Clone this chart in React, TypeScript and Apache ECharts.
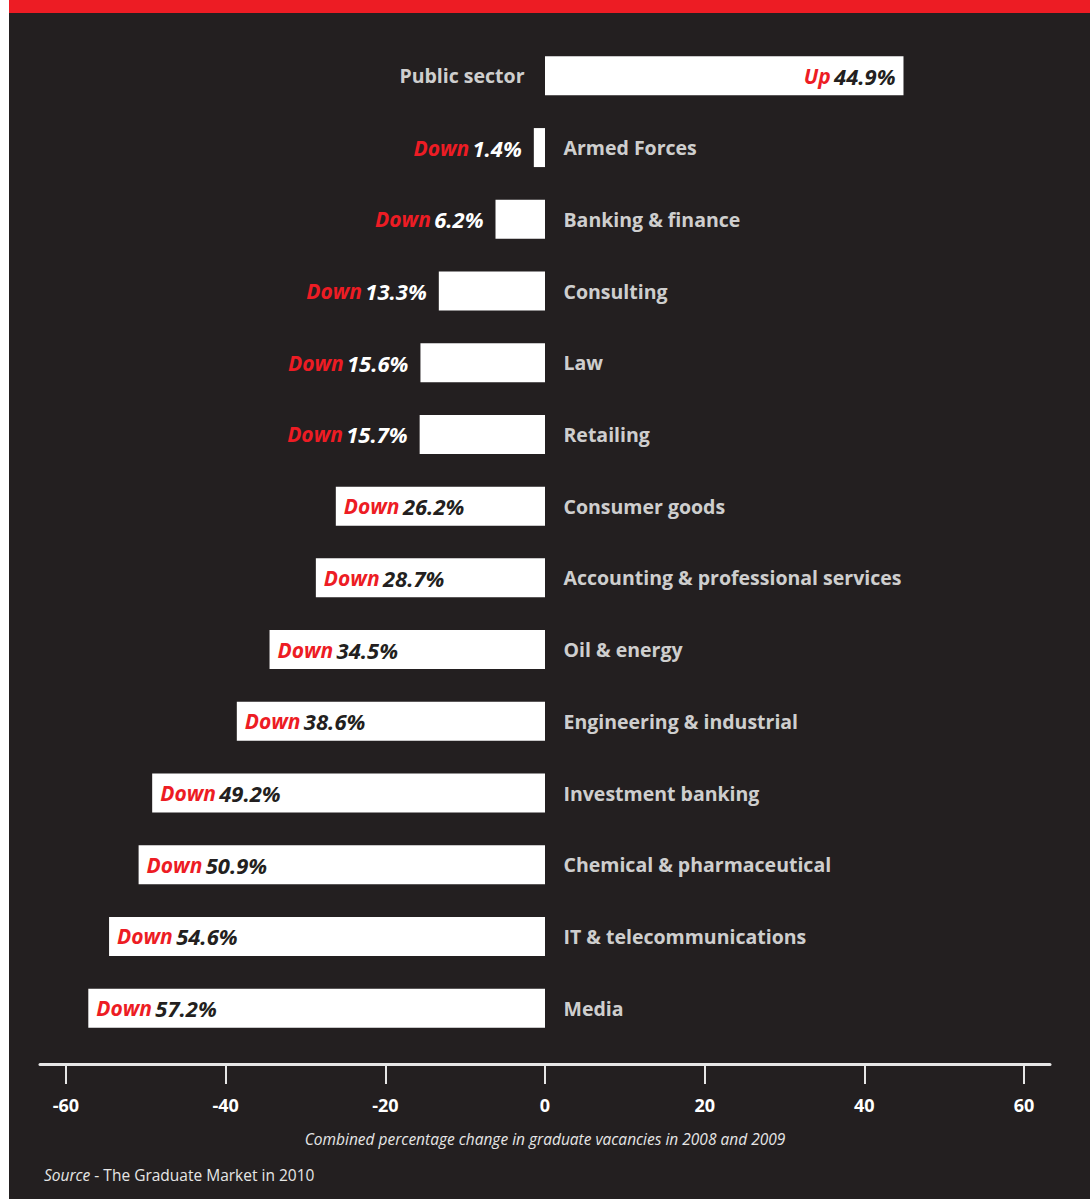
import React, { useEffect, useRef } from "react";
import * as echarts from "echarts";

const categories = [
  "Public sector",
  "Armed Forces",
  "Banking & finance",
  "Consulting",
  "Law",
  "Retailing",
  "Consumer goods",
  "Accounting & professional services",
  "Oil & energy",
  "Engineering & industrial",
  "Investment banking",
  "Chemical & pharmaceutical",
  "IT & telecommunications",
  "Media",
];

const changes = [44.9, -1.4, -6.2, -13.3, -15.6, -15.7, -26.2, -28.7, -34.5, -38.6, -49.2, -50.9, -54.6, -57.2];

const tickValues = [-60, -40, -20, 0, 20, 40, 60];

const axisTitle = "Combined percentage change in graduate vacancies in 2008 and 2009";
const sourceLabel = "Source";
const sourceText = " - The Graduate Market in 2010";

const RED = "#ed1c24";
const DARK = "#231f20";
const FONT = "'Open Sans', 'Noto Sans', sans-serif";

export default function App() {
  const ref = useRef<HTMLDivElement>(null);

  useEffect(() => {
    document.body.style.margin = "0";
    const chart = echarts.init(ref.current!, null, { renderer: "svg" });

    const barData = changes.map((v) => {
      const small = Math.abs(v) < 20;
      const word = v >= 0 ? "Up" : "Down";
      const num = Math.abs(v).toFixed(1) + "%";
      return {
        value: v,
        label: {
          show: true,
          position: v >= 0 ? "insideRight" : small ? "left" : "insideLeft",
          distance: small ? 12 : 8,
          formatter: `{w|${word}} {${small ? "vw" : "v"}|${num}}`,
          rich: {
            w: { color: RED, fontStyle: "italic", fontWeight: "bold", fontSize: 21, fontFamily: FONT },
            v: { color: DARK, fontStyle: "italic", fontWeight: "bold", fontSize: 22, fontFamily: FONT },
            vw: { color: "#ffffff", fontStyle: "italic", fontWeight: "bold", fontSize: 22, fontFamily: FONT },
          },
        },
      };
    });

    const nameData = categories.map((c, i) => ({
      value: [0, i],
      label: {
        show: true,
        position: changes[i] >= 0 ? "left" : "right",
        distance: changes[i] >= 0 ? 20 : 18,
        formatter: c,
        color: "#ffffff",
        fontWeight: "bold",
        fontSize: 19.5,
        fontFamily: FONT,
      },
    }));

    chart.setOption({
      animation: false,
      backgroundColor: DARK,
      grid: { left: 31, right: 40, top: 40, bottom: 155, containLabel: false },
      xAxis: {
        type: "value",
        min: -63.25,
        max: 63.25,
        offset: 20,
        splitLine: { show: false },
        axisLine: { show: true, lineStyle: { color: "#e6e6e6", width: 3 } },
        axisTick: { show: true, customValues: tickValues, length: 20, lineStyle: { color: "#e6e6e6", width: 2 } },
        axisLabel: {
          customValues: tickValues,
          color: "#ffffff",
          fontWeight: "bold",
          fontSize: 18,
          fontFamily: FONT,
          margin: 32,
        },
      },
      yAxis: {
        type: "category",
        data: categories,
        inverse: true,
        show: false,
      },
      series: [
        {
          type: "bar",
          data: barData,
          barWidth: 39,
          itemStyle: { color: "#ffffff" },
        },
        {
          type: "scatter",
          data: nameData,
          symbol: "circle",
          symbolSize: 1,
          itemStyle: { color: "rgba(0,0,0,0)" },
          silent: true,
        },
      ],
      graphic: [
        { type: "rect", left: 0, top: 0, shape: { width: 1081, height: 13 }, style: { fill: RED } },
        {
          type: "text",
          x: 536,
          y: 1139,
          style: {
            text: axisTitle,
            fill: "#e6e6e6",
            fontStyle: "italic",
            fontSize: 15.5,
            fontFamily: FONT,
            align: "center",
            verticalAlign: "middle",
          },
        },
        {
          type: "text",
          x: 35,
          y: 1175,
          style: {
            text: `{i|${sourceLabel}}{r|${sourceText}}`,
            verticalAlign: "middle",
            rich: {
              i: { fill: "#e6e6e6", fontStyle: "italic", fontSize: 15.5, fontFamily: FONT },
              r: { fill: "#e6e6e6", fontSize: 15.5, fontFamily: FONT },
            },
          },
        },
      ],
    });

    return () => chart.dispose();
  }, []);

  return (
    <div
      ref={ref}
      style={{ position: "absolute", left: 9, top: 0, width: 1081, height: 1199 }}
    />
  );
}
